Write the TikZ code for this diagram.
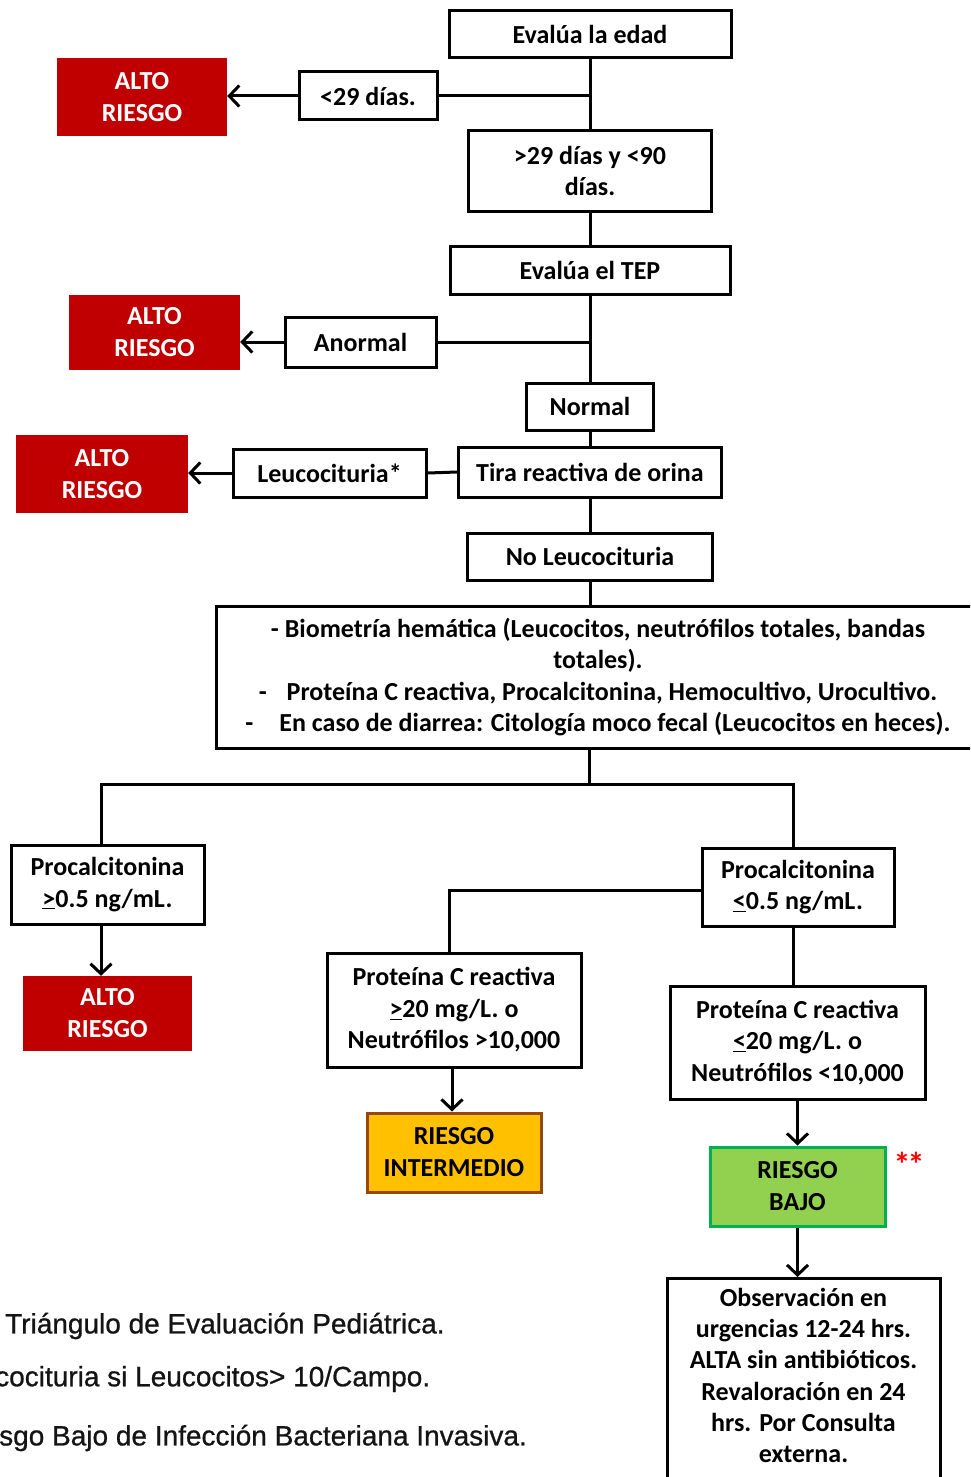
\documentclass[tikz,border=0pt]{standalone}
\usepackage{fontspec}
\setmainfont{Carlito}
\newfontfamily\notefont[FakeBold=0.8]{Liberation Sans}
\usetikzlibrary{arrows.meta}
\definecolor{altored}{HTML}{C00000}
\definecolor{interfill}{HTML}{FFC000}
\definecolor{interdraw}{HTML}{984806}
\definecolor{bajofill}{HTML}{92D050}
\definecolor{bajodraw}{HTML}{00B050}
\definecolor{notegray}{HTML}{141414}
\begin{document}
\begin{tikzpicture}[x=1pt,y=-1pt,
  box/.style={draw=black, line width=3pt, fill=white, align=center, inner sep=0pt,
    font=\bfseries\fontsize{26}{31.5}\selectfont},
  alto/.style={fill=altored, text=white, align=center, inner sep=0pt,
    font=\bfseries\fontsize{26}{32}\selectfont},
  colbox/.style={line width=3pt, align=center, inner sep=0pt,
    font=\bfseries\fontsize{26}{32}\selectfont},
  conn/.style={line width=3pt, draw=black},
  arr/.style={conn, -{Straight Barb[length=10pt,width=21pt,line width=3pt]}},
  note/.style={anchor=west, inner sep=0pt, text=notegray, font=\notefont\fontsize{28}{32}\selectfont}
]
\useasboundingbox (0,0) rectangle (970,1477);
\clip (0,0) rectangle (970,1477);

% main column
\node[box, minimum width=282pt, minimum height=47pt] (edad) at (590,34.5) {Evalúa la edad};
\node[box, minimum width=138pt, minimum height=48pt] (d29) at (368,96) {<29 días.};
\node[alto, minimum width=170pt, minimum height=78pt] (alto1) at (142,97) {ALTO\\RIESGO};
\node[box, minimum width=243pt, minimum height=80pt] (d90) at (590,171) {>29 días y <90\\días.};
\node[box, minimum width=280pt, minimum height=48pt] (tep) at (590,270) {Evalúa el TEP};
\node[box, minimum width=151pt, minimum height=50pt] (anormal) at (360.5,342) {Anormal};
\node[alto, minimum width=171pt, minimum height=75pt] (alto2) at (154.5,332.5) {ALTO\\RIESGO};
\node[box, minimum width=127pt, minimum height=47pt] (normal) at (590,406.5) {Normal};
\node[box, minimum width=263pt, minimum height=50pt] (tira) at (590,472) {Tira reactiva de orina};
\node[box, minimum width=193pt, minimum height=48pt] (leuco) at (329.5,473) {Leucocituria*};
\node[alto, minimum width=172pt, minimum height=78pt] (alto3) at (102,474) {ALTO\\RIESGO};
\node[box, minimum width=245pt, minimum height=47pt] (noleuco) at (590,556.5) {No Leucocituria};
\node[box, minimum width=764pt, minimum height=142pt] (bio) at (598,677)
  {- Biometría hemática (Leucocitos, neutrófilos totales, bandas\\
   totales).\\
   -\hspace{20pt}Proteína C reactiva, Procalcitonina, Hemocultivo, Urocultivo.\\
   -\hspace{26pt}En caso de diarrea: Citología moco fecal (Leucocitos en heces).};

% lower part
\node[box, minimum width=193pt, minimum height=79pt] (procA) at (107.5,884.5) {Procalcitonina\\\underline{>}0.5 ng/mL.};
\node[alto, minimum width=169pt, minimum height=75pt] (alto4) at (107.5,1013.5) {ALTO\\RIESGO};
\node[box, minimum width=192pt, minimum height=78pt] (procB) at (798,887) {Procalcitonina\\\underline{<}0.5 ng/mL.};
\node[box, minimum width=254pt, minimum height=114pt] (pcrA) at (454,1010) {Proteína C reactiva\\\underline{>}20 mg/L. o\\Neutrófilos >10,000};
\node[colbox, draw=interdraw, fill=interfill, minimum width=174pt, minimum height=79pt] (inter) at (454,1152.5) {RIESGO\\INTERMEDIO};
\node[box, minimum width=255pt, minimum height=113pt] (pcrB) at (797.5,1042.5) {Proteína C reactiva\\\underline{<}20 mg/L. o\\Neutrófilos <10,000};
\node[colbox, draw=bajodraw, fill=bajofill, minimum width=175pt, minimum height=79pt] (bajo) at (797.5,1186.5) {RIESGO\\BAJO};
\node[text=red, inner sep=0pt, anchor=base, font=\bfseries\fontsize{34}{34}\selectfont] (stars) at (909,1176) {*\kern-3pt*};
\node[box, minimum width=273pt, minimum height=240pt, anchor=north] (obs) at (803.5,1277) {};
\node[align=center, inner sep=0pt, anchor=north, font=\bfseries\fontsize{26}{31.2}\selectfont] (obstext) at (803.5,1288)
  {Observación en\\urgencias 12-24 hrs.\\ALTA sin antibióticos.\\Revaloración en 24\\hrs. Por Consulta\\externa.};

% footnotes
\node[note] (n1) at (5,1326) {Triángulo de Evaluación Pediátrica.};
\node[note] (n2) at (-5,1379) {cocituria si Leucocitos> 10/Campo.};
\node[note] (n3) at (-1,1438) {sgo Bajo de Infección Bacteriana Invasiva.};

% connectors
\draw[conn] (edad.south) -- (d90.north);
\draw[conn] (d29.east) -- (d29.east -| edad.south);
\draw[arr] (d29.west) -- (d29.west -| alto1.east);
\draw[conn] (d90.south) -- (tep.north);
\draw[conn] (tep.south) -- (normal.north);
\draw[conn] (anormal.east) -- (anormal.east -| tep.south);
\draw[arr] (anormal.west) -- (anormal.west -| alto2.east);
\draw[conn] (normal.south) -- (tira.north);
\draw[conn] (tira.west) -- (leuco.east);
\draw[arr] (leuco.west) -- (leuco.west -| alto3.east);
\draw[conn] (tira.south) -- (noleuco.north);
\draw[conn] (noleuco.south) -- (noleuco.south |- bio.north);

\coordinate (split) at (589,784);
\coordinate (sl) at (101,784);
\coordinate (sr) at (793,784);
\draw[conn] (split |- bio.south) -- (split);
\draw[conn, line cap=rect] (sl |- procA.north) -- (sl) -- (sr) -- (sr |- procB.north);
\draw[arr] (sl |- procA.south) -- (sl |- alto4.north);
\draw[conn] (procB.west |- 0,890) -| (pcrA.north -| 449,0);
\draw[conn] (sr |- procB.south) -- (sr |- pcrB.north);
\draw[arr] (pcrA.south -| 452,0) -- (inter.north -| 452,0);
\draw[arr] (pcrB.south) -- (pcrB.south |- bajo.north);
\draw[arr] (bajo.south) -- (bajo.south |- obs.north);
\end{tikzpicture}
\end{document}
